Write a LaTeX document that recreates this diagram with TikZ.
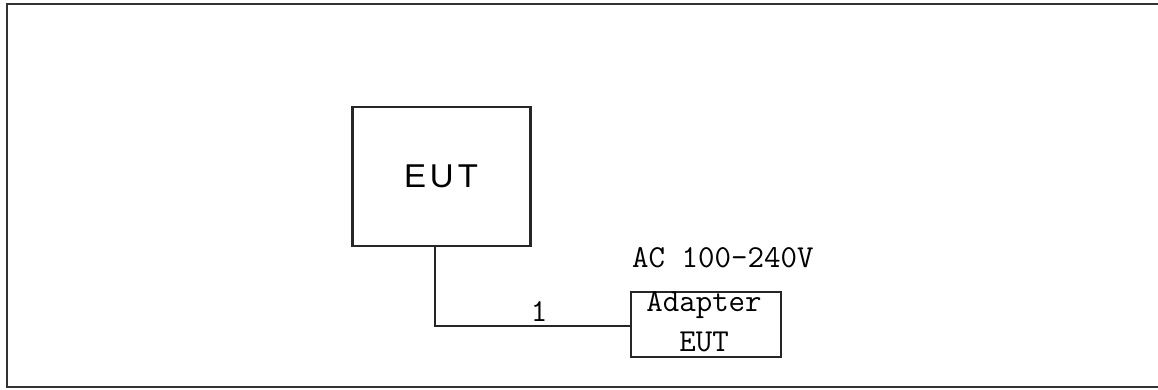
\documentclass[tikz,border=0pt]{standalone}
\usepackage{fontspec}
\newfontfamily\sansf[LetterSpace=12]{Liberation Sans}
\begin{document}
\begin{tikzpicture}[x=1pt,y=-1pt,
  frame/.style={line width=2pt,draw=black!80},
  box/.style={draw=black!85,line width=2.2pt,inner sep=0pt},
  wire/.style={draw=black!85,line width=2.2pt},
  lbl/.style={font=\ttfamily\fontsize{32}{35}\selectfont,inner sep=0pt}]
\useasboundingbox (0,0) rectangle (1158,389);
\draw[frame] (1158,4) -- (7,4) -- (7,387) -- (1158,387);
\node[box,minimum width=178pt,minimum height=139pt] (eut) at (441.5,176.5) {};
\node[font=\sansf\fontsize{33}{36}\selectfont,inner sep=0pt] (eutl) at (441,176) {EUT};
\node[box,minimum width=150pt,minimum height=65pt] (ad) at (706,324.5) {};
\node[lbl] (adl1) at (704,305) {Adapter};
\node[lbl] (adl2) at (704,342) {EUT};
\node[lbl,anchor=west] (ac) at (632,258) {AC 100-240V};
\coordinate (c) at (435,326);
\draw[wire] (eut.south -| c) -- (c) -- (ad.west |- c);
\node[lbl] (one) at (539,312) {1};
\end{tikzpicture}
\end{document}
